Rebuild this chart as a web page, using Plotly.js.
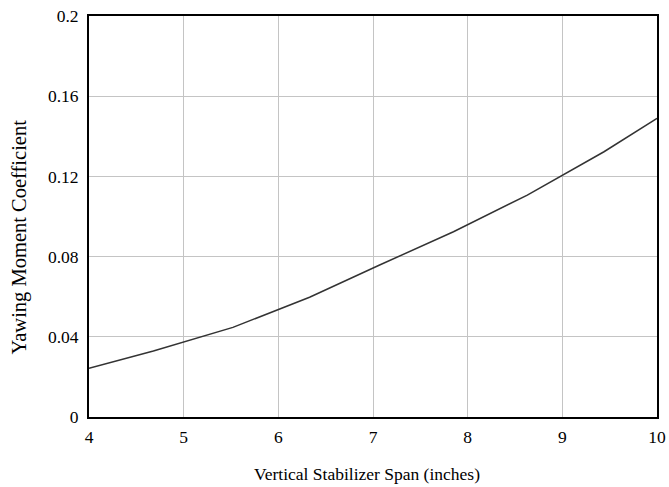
<!DOCTYPE html>
<html>
<head>
<meta charset="utf-8">
<script src="https://cdn.plot.ly/plotly-3.0.1.min.js"></script>
<style>html,body{margin:0;padding:0;background:#fff;}#chart{width:669px;height:487px;}</style>
</head>
<body>
<div id="chart"></div>
<script>
const spanInches = [4, 4.68, 5.52, 6.33, 7.07, 7.85, 8.63, 9.44, 10];
const yawingMoment = [0.0243, 0.0329, 0.0447, 0.0597, 0.0758, 0.0924, 0.1107, 0.1323, 0.149];
const xTicks = [4, 5, 6, 7, 8, 9, 10];
const yTicks = [0, 0.04, 0.08, 0.12, 0.16, 0.2];
const yTickLabels = ['0', '0.04', '0.08', '0.12', '0.16', '0.2'];
const xTitle = 'Vertical Stabilizer Span (inches)';
const yTitle = 'Yawing Moment Coefficient';

const fontFam = '"Liberation Serif", "Times New Roman", serif';
Plotly.newPlot('chart', [{
  x: spanInches, y: yawingMoment, type: 'scatter', mode: 'lines',
  line: {color: '#333333', width: 1.5}, hoverinfo: 'skip'
}], {
  width: 669, height: 487,
  margin: {l: 89, r: 12, t: 16, b: 70},
  paper_bgcolor: '#ffffff', plot_bgcolor: '#ffffff',
  showlegend: false,
  font: {family: fontFam, size: 17.5, color: '#000'},
  xaxis: {
    range: [4, 10], tickvals: xTicks, ticktext: xTicks.map(String),
    showgrid: true, gridcolor: '#c4c4c4', gridwidth: 1,
    showline: true, linecolor: '#000', linewidth: 2, mirror: true,
    ticks: '', zeroline: false, ticklabelstandoff: 3,
    tickfont: {family: fontFam, size: 17.5, color: '#000'}
  },
  yaxis: {
    range: [0, 0.2], tickvals: yTicks, ticktext: yTickLabels,
    showgrid: true, gridcolor: '#c4c4c4', gridwidth: 1,
    showline: true, linecolor: '#000', linewidth: 2, mirror: true,
    ticks: '', zeroline: false, ticklabelstandoff: 5,
    tickfont: {family: fontFam, size: 17.5, color: '#000'}
  },
  annotations: [
    {text: xTitle, xref: 'paper', yref: 'paper', x: 0.4886, y: 0,
     xanchor: 'center', yanchor: 'middle', yshift: -57, showarrow: false,
     font: {family: fontFam, size: 17.5, color: '#000'}},
    {text: yTitle, xref: 'paper', yref: 'paper', x: 0, y: 0.4476,
     xanchor: 'center', yanchor: 'middle', xshift: -69, textangle: -90, showarrow: false,
     font: {family: fontFam, size: 20.5, color: '#000'}}
  ]
}, {displayModeBar: false, staticPlot: true});
</script>
</body>
</html>
